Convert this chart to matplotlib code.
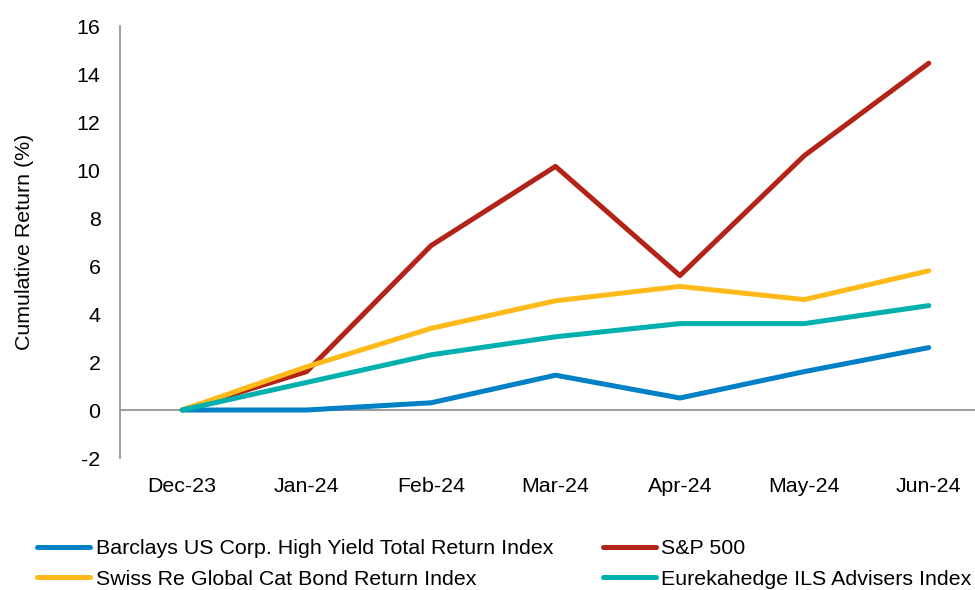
import matplotlib.pyplot as plt

plt.rcParams['font.family'] = ['Liberation Sans', 'DejaVu Sans']
plt.rcParams['axes.unicode_minus'] = False

meses = ["Dec-23", "Jan-24", "Feb-24", "Mar-24", "Apr-24", "May-24", "Jun-24"]
barclays = [0.0, 0.0, 0.3, 1.45, 0.5, 1.6, 2.6]
sp500 = [0.0, 1.6, 6.85, 10.15, 5.6, 10.6, 14.45]
swiss_re = [0.0, 1.8, 3.4, 4.55, 5.15, 4.6, 5.8]
eurekahedge = [0.0, 1.15, 2.3, 3.05, 3.6, 3.6, 4.35]

fs = 15.4
fig = plt.figure(figsize=(9.75, 5.9), dpi=100)
ax = fig.add_axes([120/975, 1 - 458/590, 871/975, 432/590])

x = range(len(meses))
l1, = ax.plot(x, barclays, color="#0080C6", lw=3.6, solid_capstyle="round", label="Barclays US Corp. High Yield Total Return Index")
l2, = ax.plot(x, sp500, color="#B22418", lw=3.6, solid_capstyle="round", label="S&P 500")
l3, = ax.plot(x, swiss_re, color="#FFBA1A", lw=3.6, solid_capstyle="round", label="Swiss Re Global Cat Bond Return Index")
l4, = ax.plot(x, eurekahedge, color="#00B0AE", lw=3.6, solid_capstyle="round", label="Eurekahedge ILS Advisers Index")

ax.axhline(0, color="#8C8C8C", lw=1.2, zorder=0)
ax.set_xlim(-0.5, 6.5)
ax.set_ylim(-2, 16)
ax.set_yticks(range(-2, 17, 2))
ax.set_xticks(list(x))
ax.set_xticklabels(meses)
ax.tick_params(axis="both", length=0, labelsize=fs, pad=14)

for s in ["top", "right", "bottom"]:
    ax.spines[s].set_visible(False)
ax.spines["left"].set_color("#8C8C8C")
ax.spines["left"].set_linewidth(1.2)

ax.set_ylabel("Cumulative Return (%)", fontsize=fs)
ax.yaxis.set_label_coords(-0.099, 0.5)

fig.legend([l1, l3, l2, l4], [l1.get_label(), l3.get_label(), l2.get_label(), l4.get_label()],
           ncol=2, frameon=False, fontsize=fs, loc="upper left",
           bbox_to_anchor=(37/975, 1 - 539/590), borderpad=0, borderaxespad=0,
           handlelength=2.5, handletextpad=0.25, columnspacing=2.3, labelspacing=0.55)

fig.savefig("out.png", dpi=100)
